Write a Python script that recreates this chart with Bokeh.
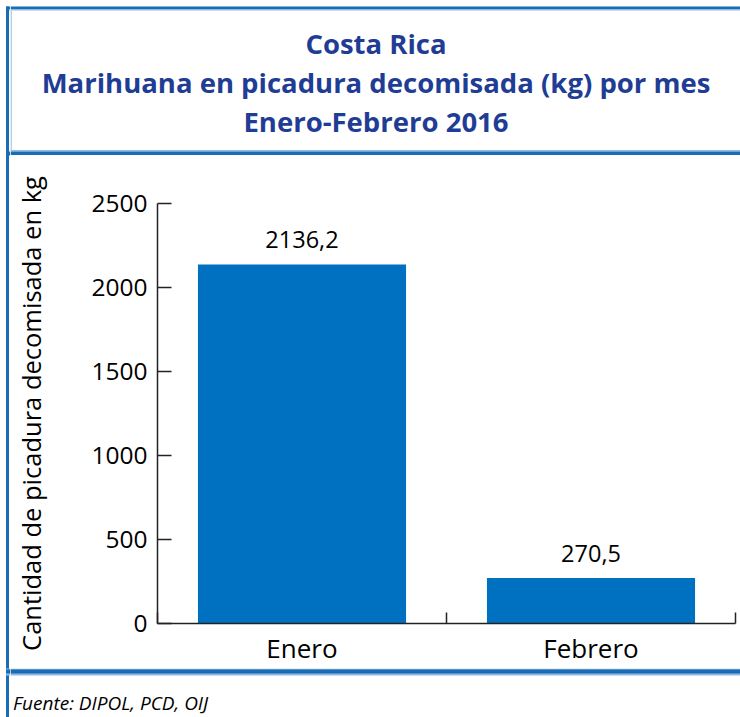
from bokeh.plotting import figure
from bokeh.layouts import row, column
from bokeh.models import (ColumnDataSource, Label, LabelSet, BoxAnnotation,
                          FixedTicker, Range1d)
from bokeh.core.properties import value
from bokeh.embed import file_html
from bokeh.resources import INLINE

# ---- data ----
months = ["Enero", "Febrero"]
values = [2136.2, 270.5]
value_labels = ["2136,2", "270,5"]
y_ticks = [0, 500, 1000, 1500, 2000, 2500]

title_lines = ["Costa Rica",
               "Marihuana en picadura decomisada (kg) por mes",
               "Enero-Febrero 2016"]
y_label = "Cantidad de picadura decomisada en kg"
source_note = "Fuente: DIPOL, PCD, OIJ"

# ---- styling ----
BAR = "#0070c0"
TITLE_C = "#1f3d94"
DARK = "#1b6db3"
LIGHT = "#8fbbe3"
AXC = "#222222"
FONT = "Open Sans"
TFONT = "Open Sans"

PAGE_W, PAGE_H = 740, 717
STRIP_W = 10
INNER_W = PAGE_W - STRIP_W
T_H, F_H = 155, 49
C_H = PAGE_H - T_H - F_H


def deco_fig(w, h):
    f = figure(width=w, height=h, x_range=Range1d(0, w), y_range=Range1d(h, 0),
               output_backend="svg", toolbar_location=None,
               x_axis_location=None, y_axis_location=None, min_border=0)
    f.grid.visible = False
    f.outline_line_color = None
    f.background_fill_color = "white"
    f.border_fill_color = "white"
    f.frame_align = False
    return f


def band(f, l, t, r, b, color):
    f.add_layout(BoxAnnotation(left=l, right=r, top=t, bottom=b,
                               fill_color=color, fill_alpha=1, line_color=None))


# ---- left strip (vertical border line) ----
S = deco_fig(STRIP_W, PAGE_H)
band(S, 5.5, 6, 8.5, PAGE_H, DARK)
band(S, 5.5, 6, STRIP_W, 9, DARK)
band(S, 8.5, 9, STRIP_W, 10, LIGHT)
band(S, 5.5, 151, STRIP_W, 155, DARK)
band(S, 5.5, 668, STRIP_W, 675, LIGHT)
band(S, 5.5, 669, STRIP_W, 673, DARK)

# ---- title box ----
T = deco_fig(INNER_W, T_H)
band(T, 0, 6, INNER_W, 9, DARK)
band(T, 0, 9, INNER_W, 10, LIGHT)
band(T, 0, 10, 1.2, 150, LIGHT)
band(T, 0, 149.5, INNER_W, 151, LIGHT)
band(T, 0, 151, INNER_W, 155, DARK)
for line, ty in zip(title_lines, [43, 82, 121]):
    T.add_layout(Label(x=365.5, y=ty, text=line, text_align="center",
                       text_baseline="alphabetic", text_font=TFONT,
                       text_font_style="bold", text_font_size="27.5px",
                       text_color=TITLE_C))

# ---- chart ----
x_pos = [i + 0.5 for i in range(len(months))]
src = ColumnDataSource(dict(x=x_pos, top=values, lab=value_labels))

C = figure(width=INNER_W, height=C_H, x_range=Range1d(0, len(months)),
           y_range=Range1d(0, 2500), output_backend="svg",
           toolbar_location=None, min_border_left=147, min_border_right=5,
           min_border_top=48, min_border_bottom=43)
C.frame_align = False
C.outline_line_color = None
C.grid.grid_line_color = None
C.background_fill_color = "white"
C.border_fill_color = "white"

C.vbar(x="x", top="top", width=0.72, source=src, color=BAR, line_color=None)
C.add_layout(LabelSet(x="x", y="top", text="lab", source=src, y_offset=25,
                      text_align="center", text_baseline="middle",
                      text_font=value(FONT), text_font_size=value("23.5px"),
                      text_color=value("black")))

ya = C.yaxis[0]
ya.ticker = FixedTicker(ticks=y_ticks, minor_ticks=[])
ya.major_tick_in = 14
ya.major_tick_out = 0
ya.minor_tick_line_color = None
ya.axis_line_color = AXC
ya.axis_line_width = 1.5
ya.major_tick_line_color = AXC
ya.major_tick_line_width = 1.5
ya.major_label_standoff = 10
ya.major_label_text_font = FONT
ya.major_label_text_font_size = "24.5px"
ya.major_label_text_color = "black"
ya.axis_label = y_label
ya.axis_label_standoff = 40
ya.axis_label_text_font = FONT
ya.axis_label_text_font_size = "25.5px"
ya.axis_label_text_font_style = "normal"
ya.axis_label_text_color = "black"

xa = C.xaxis[0]
xa.ticker = FixedTicker(ticks=x_pos, minor_ticks=list(range(len(months) + 1)))
xa.major_label_overrides = {x: m for x, m in zip(x_pos, months)}
xa.major_tick_line_color = None
xa.minor_tick_in = 11
xa.minor_tick_out = 0
xa.minor_tick_line_color = AXC
xa.minor_tick_line_width = 1.5
xa.axis_line_color = AXC
xa.axis_line_width = 1.5
xa.major_label_standoff = 0
xa.major_label_text_font = FONT
xa.major_label_text_font_size = "26px"
xa.major_label_text_color = "black"

# ---- bottom line + source note ----
F = deco_fig(INNER_W, F_H)
band(F, 0, 0, INNER_W, 7, LIGHT)
band(F, 0, 1, INNER_W, 5, DARK)
F.add_layout(Label(x=2.5, y=34.5, text=source_note, text_align="left",
                   text_baseline="alphabetic", text_font=FONT,
                   text_font_style="italic", text_font_size="19px",
                   text_color="black"))

layout = row(S, column(T, C, F))
open("out.html", "w").write(file_html(layout, INLINE))
